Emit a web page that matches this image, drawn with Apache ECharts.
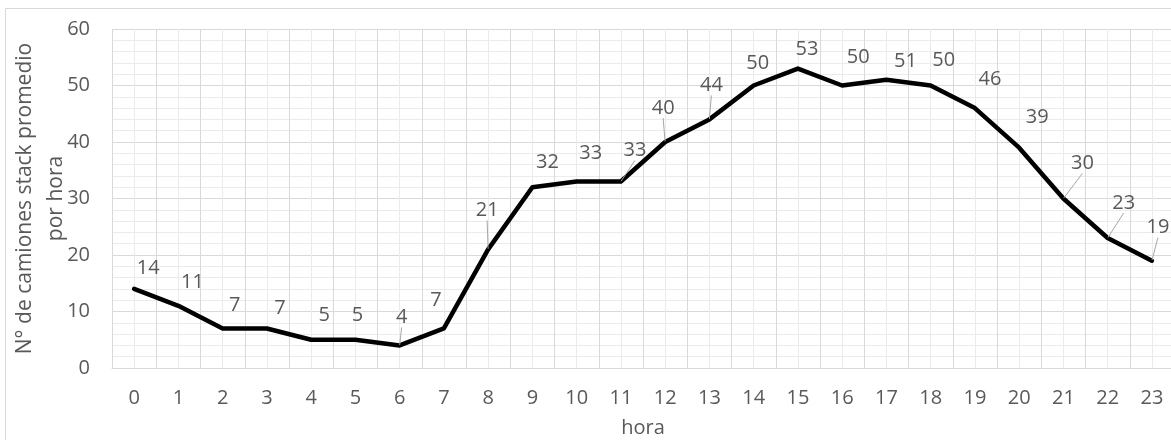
<!DOCTYPE html>
<html>
<head>
<meta charset="utf-8">
<script src="https://cdn.jsdelivr.net/npm/echarts@6/dist/echarts.min.js"></script>
<style>html,body{margin:0;padding:0;background:#fff;}#c{width:1171px;height:440px;}</style>
</head>
<body>
<div id="c"></div>
<script>
const hours = ['0','1','2','3','4','5','6','7','8','9','10','11','12','13','14','15','16','17','18','19','20','21','22','23'];
const trucks = [14,11,7,7,5,5,4,7,21,32,33,33,40,44,50,53,50,51,50,46,39,30,23,19];
const yTitle = 'N° de camiones stack promedio\npor hora';
const xTitle = 'hora';

// label placement (layout only)
const labelShift = [[14,-21],[14,-24],[12,-23],[13,-20],[13,-24],[2,-24],[2,-28],[-8,-28],[-1,-39],[15,-25],[14,-28],[14,-31],[-2,-34],[2,-34],[4,-22],[9,-19],[16,-28],[19,-19],[13,-25],[15,-29],[18,-30],[19,-35],[16,-35],[6,-33]];
const leaderIdx = [6,8,11,12,13,21,22,23];

const FONT = 'Open Sans';
const TXT = '#595959';
const FS = 20;
const chart = echarts.init(document.getElementById('c'));
chart.setOption({
  backgroundColor: '#fff',
  animation: false,
  textStyle: {fontFamily: FONT},
  graphic: [{type:'rect', shape:{x:5.5,y:8.5,width:1200,height:500}, style:{fill:'none', stroke:'#d9d9d9', lineWidth:1}, silent:true, z:-10}],
  grid: {left:112, right:-3, top:29, bottom:72, containLabel:false, outerBoundsMode:'none'},
  xAxis: [{
    type:'category', data: hours, boundaryGap:true,
    axisLine:{show:true, lineStyle:{color:'#d9d9d9', width:1}},
    axisTick:{show:false},
    axisLabel:{color:TXT, fontSize:FS, fontFamily:FONT, margin:20, interval:0},
    splitLine:{show:true, interval:0, lineStyle:{color:'#d9d9d9', width:1}},
    name: xTitle, nameLocation:'middle', nameGap:50, nameMoveOverlap:false,
    nameTextStyle:{color:TXT, fontSize:FS, fontFamily:FONT}
  },{
    type:'value', min:0, max:48, interval:2, position:'bottom',
    axisLine:{show:false}, axisTick:{show:false}, axisLabel:{show:false},
    splitLine:{show:false},
    minorTick:{show:false, splitNumber:2},
    minorSplitLine:{show:true, lineStyle:{color:'#ebebeb', width:1}}
  }],
  yAxis: {
    type:'value', min:0, max:60, interval:10,
    axisLine:{show:false}, axisTick:{show:false},
    axisLabel:{color:TXT, fontSize:FS, fontFamily:FONT, margin:22},
    splitLine:{show:true, lineStyle:{color:'#d9d9d9', width:1}},
    minorTick:{show:false, splitNumber:5},
    minorSplitLine:{show:true, lineStyle:{color:'#ebebeb', width:1}},
    name: yTitle, nameLocation:'middle', nameGap:40, nameRotate:90, nameMoveOverlap:false,
    nameTextStyle:{color:TXT, fontSize:21, fontFamily:FONT, lineHeight:31}
  },
  series: [{
    type:'line', xAxisIndex:0,
    data: trucks.map((v,i)=>({value:v, labelLine:{show: leaderIdx.indexOf(i)>=0}})),
    symbol:'circle', symbolSize:1, showSymbol:true,
    itemStyle:{color:'#000'},
    lineStyle:{color:'#000', width:4.5, cap:'round', join:'round'},
    label:{show:true, position:'inside', color:TXT, fontSize:FS, fontFamily:FONT},
    labelLine:{show:false, lineStyle:{color:'#a6a6a6', width:1}},
    labelLayout: function(p){ const s = labelShift[p.dataIndex]; return {dx:s[0], dy:s[1]}; },
    z:5
  }]
});
</script>
</body>
</html>
